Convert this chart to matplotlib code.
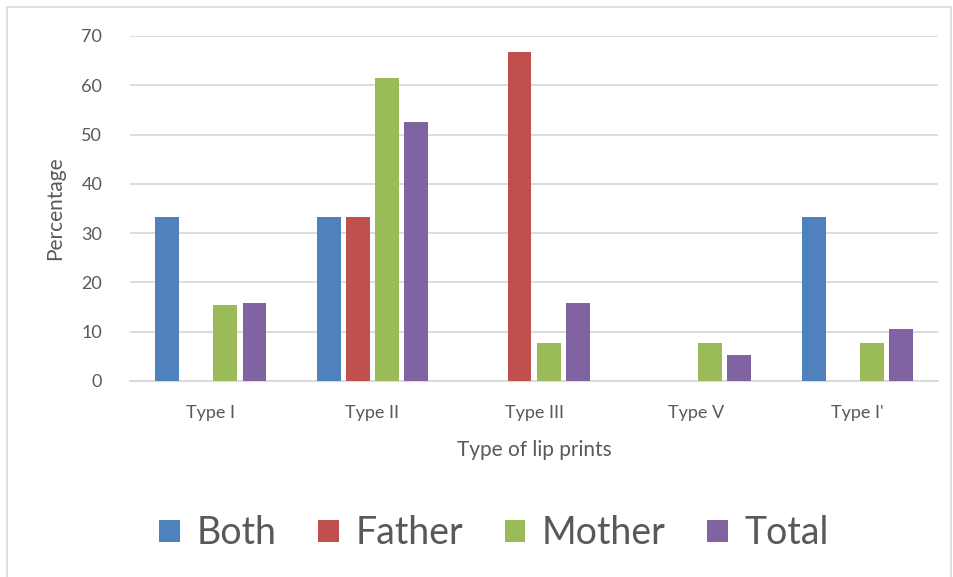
import numpy as np
import matplotlib.pyplot as plt
from matplotlib.patches import Rectangle

categories = ["Type I", "Type II", "Type III", "Type V", "Type I'"]
both = [33.3, 33.3, 0, 0, 33.3]
father = [0, 33.3, 66.7, 0, 0]
mother = [15.4, 61.5, 7.7, 7.7, 7.7]
total = [15.8, 52.6, 15.8, 5.3, 10.5]

series = [("Both", both, "#4f81bd"), ("Father", father, "#c0504d"),
          ("Mother", mother, "#9bbb59"), ("Total", total, "#8064a2")]

plt.rcParams['font.family'] = ['Lato', 'DejaVu Sans']
txt = "#595959"

fig = plt.figure(figsize=(9.54, 5.77), dpi=100)
fig.patches.append(Rectangle((0.007, -0.01), 0.99, 0.998, transform=fig.transFigure,
                             fill=False, edgecolor="#d9d9d9", linewidth=1.2))
ax = fig.add_axes([0.1363, 0.3397, 0.847, 0.598])

x = np.arange(len(categories))
step = 0.18
width = 0.148
for i, (name, vals, color) in enumerate(series):
    ax.bar(x + (i - 1.5) * step, vals, width, color=color, label=name, zorder=3)

ax.set_xlim(-0.5, len(categories) - 0.5)
ax.set_ylim(0, 70)
ax.set_yticks(range(0, 71, 10))
ax.set_xticks(x)
ax.set_xticklabels(categories)
ax.grid(axis='y', color="#d9d9d9", linewidth=1.3, zorder=0)
for s in ["top", "right", "left"]:
    ax.spines[s].set_visible(False)
ax.spines["bottom"].set_color("#d9d9d9")
ax.spines["bottom"].set_linewidth(1.3)
ax.tick_params(axis='both', length=0, labelsize=13, colors=txt)
ax.tick_params(axis='x', pad=17)
ax.tick_params(axis='y', pad=20)
ax.set_xlabel("Type of lip prints", fontsize=15, color=txt, labelpad=14)
ax.set_ylabel("Percentage", fontsize=15, color=txt, labelpad=12)

fig.legend(loc='center', bbox_to_anchor=(0.518, 0.076), ncol=4, frameon=False,
           fontsize=27, labelcolor=txt, handlelength=0.55, handleheight=0.55,
           handletextpad=0.45, columnspacing=1.1)

fig.savefig("out.png", dpi=100)
